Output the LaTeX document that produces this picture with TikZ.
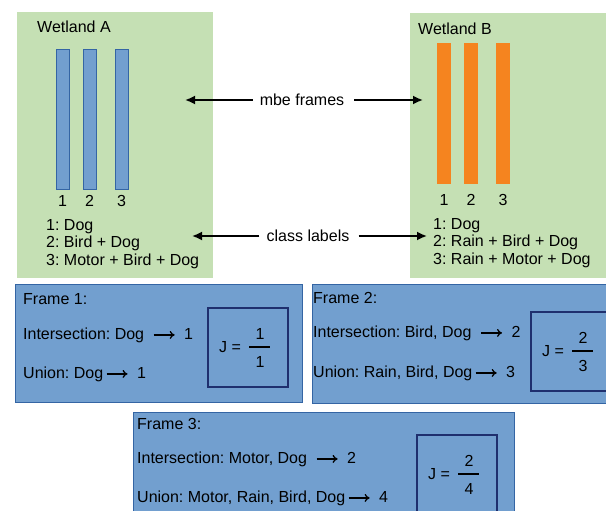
\documentclass[tikz,border=0pt]{standalone}
\usepackage{fontspec}
\setmainfont{Liberation Sans}
\usetikzlibrary{positioning,arrows.meta}
\frenchspacing

\definecolor{wetgreen}{HTML}{C5E0B4}
\definecolor{barblue}{HTML}{729FCF}
\definecolor{barblueline}{HTML}{3465A4}
\definecolor{barorange}{HTML}{F5841F}
\definecolor{framefill}{HTML}{729FCF}
\definecolor{frameline}{HTML}{3465A4}
\definecolor{jline}{HTML}{1F2F6E}

% the small arrow inside the frame texts
\newcommand{\yields}{\tikz[baseline=-4.2pt, x=1pt, y=1pt]
    \draw[-{To[length=5pt,width=8pt]}, line width=1.3pt] (0,0) -- (21,0);}

\tikzset{
  txt/.style={font=\fontsize{16}{17.5}\selectfont, inner sep=0pt},
  lbl/.style={txt, anchor=west},
  bigarrow/.style={-{Latex[length=10pt,width=9pt]}, line width=1.8pt},
  framebox/.style={fill=framefill, draw=frameline, line width=1pt},
  jbox/.style={draw=jline, line width=2pt},
}

\begin{document}
\begin{tikzpicture}[x=1pt,y=-1pt]
    \useasboundingbox (0,0) rectangle (606,511);
    \fill[white] (0,0) rectangle (606,511);
    \clip (0,0) rectangle (606,511);

    % Wetland A
    \fill[wetgreen] (17,12) rectangle (213,278);
    \node[lbl] (titleA) at (37,27) {Wetland A};
    \foreach \x [count=\i] in {56,83,115} {
        \draw[fill=barblue, draw=barblueline, line width=0.6pt] (\x,49) rectangle (\x+13,189);
        \node[txt] (numA\i) at (\x+6.5,201) {\i};
    }
    \node[txt, align=left, anchor=north west] (legA) at (46,219)
        {1: Dog\\2: Bird + Dog\\3: Motor + Bird + Dog};

    % Wetland B
    \fill[wetgreen] (410,13) rectangle (612,278);
    \node[lbl] (titleB) at (418,29) {Wetland B};
    \foreach \x [count=\i] in {437,464,496} {
        \fill[barorange] (\x,43) rectangle (\x+14,184);
        \node[txt] (numB\i) at (\x+7,200) {\i};
    }
    \node[txt, align=left, anchor=north west] (legB) at (433,218)
        {1: Dog\\2: Rain + Bird + Dog\\3: Rain + Motor + Dog};

    % Arrows between the wetlands
    \node[txt] (mbe) at (302,100) {mbe frames};
    \coordinate (mbeA) at (185,100);
    \coordinate (mbeB) at (423,100);
    \draw[bigarrow] ([xshift=-7pt]mbe.west) -- (mbeA);
    \draw[bigarrow] ([xshift=10pt]mbe.east) -- (mbeB);

    \node[txt] (cls) at (308,236) {class labels};
    \coordinate (clsA) at (192,236);
    \coordinate (clsB) at (427,236);
    \draw[bigarrow] ([xshift=-7pt]cls.west) -- (clsA);
    \draw[bigarrow] ([xshift=9pt]cls.east) -- (clsB);

    % Frames
    \draw[framebox] (15,284) rectangle (302,402);
    \draw[framebox] (312,284) rectangle (612,403);
    \draw[framebox] (133,412) rectangle (514,520);

    \node[lbl] (f1) at (23,299) {Frame 1:};
    \node[lbl] (f1int) at (23,335) {Intersection: Dog\ \ \yields\ \ 1};
    \node[lbl] (f1uni) at (23,374) {Union: Dog\,\yields\ \ 1};

    \node[lbl] (f2) at (313,298) {Frame 2:};
    \node[lbl] (f2int) at (313,333) {Intersection: Bird, Dog\ \ \yields\ \ 2};
    \node[lbl] (f2uni) at (313,373) {Union: Rain, Bird, Dog\,\yields\ \ 3};

    \node[lbl] (f3) at (137,424) {Frame 3:};
    \node[lbl] (f3int) at (137,459) {Intersection: Motor, Dog\ \ \yields\ \ 2};
    \node[lbl] (f3uni) at (137,498) {Union: Motor, Rain, Bird, Dog\,\yields\ \ 4};

    % Jaccard boxes
    \foreach \n/\cx/\cy/\num/\den in {1/260/347/1/1, 2/583/351/2/3, 3/469/474/2/4} {
        \draw[jbox] (\cx-52,\cy-39) rectangle (\cx+28,\cy+40);
        \node[txt] (j\n) at (\cx-30,\cy) {J =};
        \node[txt] (jnum\n) at (\cx,\cy-13) {\num};
        \node[txt] (jden\n) at (\cx,\cy+15) {\den};
        \draw[line width=1.5pt] (\cx-11,\cy) -- (\cx+10,\cy);
    }
\end{tikzpicture}
\end{document}
